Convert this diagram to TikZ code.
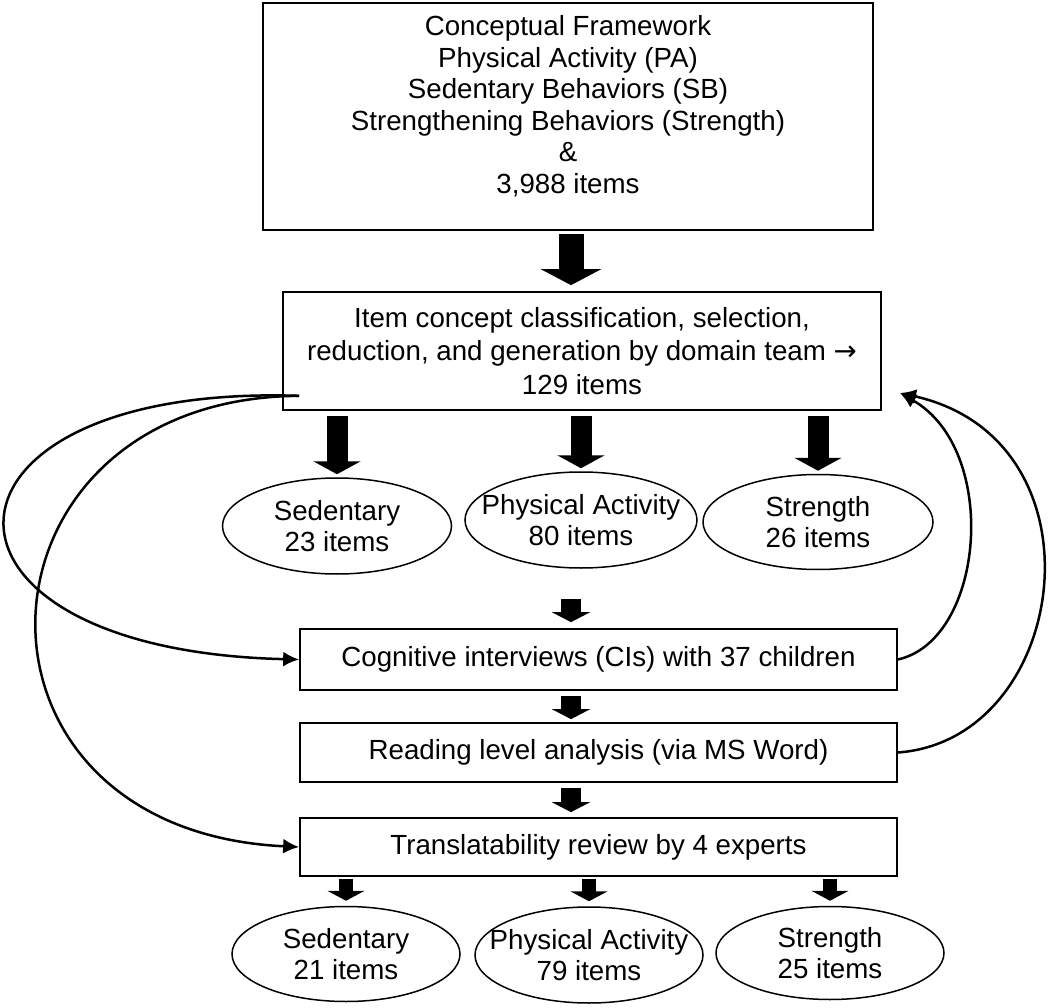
\documentclass[tikz,border=0pt]{standalone}
\usepackage{fontspec}
\setmainfont{Liberation Sans}
\newfontfamily\arrowfont{DejaVu Sans}
\usetikzlibrary{arrows.meta, positioning, calc, shapes.geometric}

\begin{document}
\begin{tikzpicture}[x=1pt, y=-1pt, line width=1.7pt,
  every node/.style={font=\fontsize{27.7}{31.6}\selectfont, align=center, inner sep=0pt},
  box/.style={draw, rectangle},
  oval/.style={draw, ellipse, line width=1.5pt, inner xsep=-20pt, minimum width=229pt, minimum height=96pt},
  bigarrow/.style={line width=25pt, -{Triangle[length=16pt, width=60pt]}},
  midarrow/.style={line width=21pt, -{Triangle[length=13pt, width=47pt]}},
  smallarrow/.style={line width=20pt, -{Triangle[length=10pt, width=38pt]}},
  tinyarrow/.style={line width=14pt, -{Triangle[length=10pt, width=37pt]}},
  feedback/.style={line width=2.5pt, -{Latex[length=16pt, width=15pt]}}]
  \useasboundingbox (0,0) rectangle (1050,1008);
  \coordinate (axis) at (571,0);

  \node[box, minimum width=610pt, minimum height=227pt, text depth=24pt] (box1) at (568,116.5)
    {Conceptual Framework\\Physical Activity (PA)\\Sedentary Behaviors (SB)\\
     Strengthening Behaviors (Strength)\\\&\\3,988 items};

  \node[box, minimum width=598pt, minimum height=118pt,
    font=\fontsize{27.7}{33.5}\selectfont] (box2) at (582,351)
    {Item concept classification, selection,\\
     reduction, and generation by domain team {\arrowfont →}\\129 items};
  \draw[bigarrow, shorten <=3pt, shorten >=6pt] (box1.south -| axis) -- (box2.north -| axis);

  % first split
  \node[oval] (sed1) at (337,526) {Sedentary\\23 items};
  \node[oval, minimum width=232pt] (pa1) at (581,520) {Physical Activity\\80 items};
  \node[oval, minimum width=230pt, minimum height=95pt] (str1) at (818,522) {Strength\\26 items};
  \draw[midarrow, shorten <=5pt, shorten >=3pt] (box2.south -| sed1) -- (sed1.north);
  \draw[midarrow, shorten <=5pt, shorten >=3pt] (box2.south -| pa1) -- (pa1.north);
  \draw[midarrow, shorten <=5pt, shorten >=3pt] (box2.south -| str1) -- (str1.north);

  \node[box, minimum width=597pt, minimum height=61pt] (ci) at (598.5,659.5)
    {Cognitive interviews (CIs) with 37 children};
  \node[box, minimum width=597pt, minimum height=59pt] (rl) at (598.5,752.5)
    {Reading level analysis (via MS Word)};
  \node[box, minimum width=597pt, minimum height=58pt] (tr) at (598.5,847)
    {Translatability review by 4 experts};
  \draw[smallarrow, shorten <=30pt, shorten >=6pt] (pa1.south -| axis) -- (ci.north -| axis);
  \draw[smallarrow, shorten <=5pt, shorten >=3pt] (ci.south -| axis) -- (rl.north -| axis);
  \draw[smallarrow, shorten <=5pt, shorten >=5pt] (rl.south -| axis) -- (tr.north -| axis);

  % final split
  \node[oval, minimum width=228pt, minimum height=95pt] (sed2) at (346,954) {Sedentary\\21 items};
  \node[oval, minimum width=228pt] (pa2) at (589,955) {Physical Activity\\79 items};
  \node[oval, minimum width=228pt, minimum height=93pt] (str2) at (830,953) {Strength\\25 items};
  \draw[tinyarrow, shorten <=2pt, shorten >=5pt] (tr.south -| sed2) -- (sed2.north);
  \draw[tinyarrow, shorten <=2pt, shorten >=5pt] (tr.south -| pa2) -- (pa2.north);
  \draw[tinyarrow, shorten <=2pt, shorten >=5pt] (tr.south -| str2) -- (str2.north);

  % feedback loops
  \coordinate (lf) at ($(box2.south west)+(17,-15)$);
  \coordinate (rf) at (900,393);
  \draw[feedback] (lf) .. controls (-85,383) and (-100,650) .. (ci.west);
  \draw[feedback] (lf) .. controls (-40,398) and (-60,830) .. (tr.west);
  \draw[feedback] (ci.east) .. controls (985,640) and (1000,450) .. (rf);
  \draw[feedback] (rl.east) .. controls (1070,740) and (1110,440) .. (rf);
\end{tikzpicture}
\end{document}
